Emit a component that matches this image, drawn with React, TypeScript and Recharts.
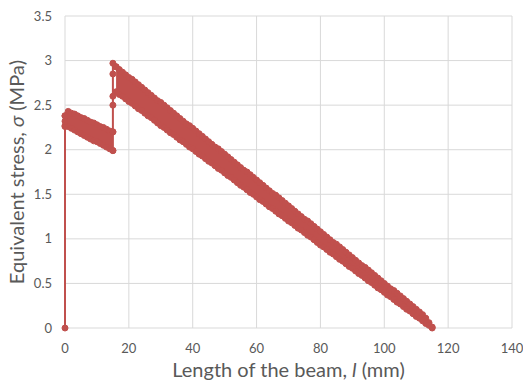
import React from 'react';
import { ComposedChart, Area, Line, XAxis, YAxis, CartesianGrid, Label } from 'recharts';

// band of nodal results: beam position (mm), upper and lower equivalent stress (MPa)
const bandX: number[] = [
  0, 1, 2, 3, 4, 5, 6, 7, 8, 9, 10, 11, 12, 13, 14, 15,
  16, 17, 18, 19, 20, 21, 22, 23, 24, 25, 26, 27, 28, 29, 30, 31, 32, 33, 34, 35,
  36, 37, 38, 39, 40, 41, 42, 43, 44, 45, 46, 47, 48, 49, 50, 51, 52, 53, 54, 55,
  56, 57, 58, 59, 60, 61, 62, 63, 64, 65, 66, 67, 68, 69, 70, 71, 72, 73, 74, 75,
  76, 77, 78, 79, 80, 81, 82, 83, 84, 85, 86, 87, 88, 89, 90, 91, 92, 93, 94, 95,
  96, 97, 98, 99, 100, 101, 102, 103, 104, 105, 106, 107, 108, 109, 110, 111, 112, 113, 114, 115,
];
const bandTop: number[] = [
  2.38, 2.43, 2.41, 2.4, 2.38, 2.36, 2.35, 2.33, 2.31, 2.3, 2.28, 2.26, 2.25, 2.23, 2.21, 2.2,
  2.93, 2.9, 2.87, 2.84, 2.81, 2.79, 2.76, 2.73, 2.7, 2.67, 2.64, 2.61, 2.58, 2.55, 2.53, 2.5, 2.47, 2.44, 2.41, 2.38,
  2.35, 2.32, 2.29, 2.27, 2.24, 2.21, 2.18, 2.15, 2.12, 2.09, 2.06, 2.03, 2.01, 1.98, 1.95, 1.92, 1.89, 1.86, 1.83, 1.8,
  1.77, 1.75, 1.72, 1.69, 1.66, 1.63, 1.6, 1.57, 1.54, 1.51, 1.49, 1.46, 1.43, 1.4, 1.37, 1.34, 1.31, 1.28, 1.25, 1.22,
  1.2, 1.17, 1.14, 1.11, 1.08, 1.05, 1.02, 0.99, 0.96, 0.94, 0.91, 0.88, 0.85, 0.82, 0.79, 0.76, 0.73, 0.7, 0.68, 0.65,
  0.62, 0.59, 0.56, 0.53, 0.5, 0.47, 0.44, 0.42, 0.39, 0.36, 0.33, 0.3, 0.27, 0.24, 0.21, 0.18, 0.15, 0.11, 0.06, 0.01,
];
const bandBottom: number[] = [
  2.27, 2.26, 2.24, 2.22, 2.2, 2.18, 2.16, 2.14, 2.12, 2.1, 2.09, 2.07, 2.05, 2.03, 2.01, 1.99,
  2.65, 2.62, 2.6, 2.57, 2.54, 2.52, 2.49, 2.46, 2.44, 2.41, 2.38, 2.36, 2.33, 2.3, 2.27, 2.25, 2.22, 2.19, 2.17, 2.14,
  2.11, 2.09, 2.06, 2.03, 2.01, 1.98, 1.95, 1.93, 1.9, 1.87, 1.85, 1.82, 1.79, 1.77, 1.74, 1.71, 1.69, 1.66, 1.63, 1.6,
  1.58, 1.55, 1.52, 1.5, 1.47, 1.44, 1.42, 1.39, 1.36, 1.34, 1.31, 1.28, 1.26, 1.23, 1.2, 1.18, 1.15, 1.12, 1.1, 1.07,
  1.04, 1.02, 0.99, 0.96, 0.93, 0.91, 0.88, 0.85, 0.83, 0.8, 0.77, 0.75, 0.72, 0.69, 0.67, 0.64, 0.61, 0.59, 0.56, 0.53,
  0.51, 0.48, 0.45, 0.43, 0.4, 0.37, 0.35, 0.32, 0.29, 0.27, 0.24, 0.21, 0.19, 0.16, 0.13, 0.11, 0.08, 0.05, 0.03, 0,
];

// the two vertical jumps (support at 0 mm, step at 15 mm)
const jump0X = [0, 0, 0, 0];
const jump0Y = [0, 2.26, 2.32, 2.38];
const jump15X = [15, 15, 15, 15, 15, 15, 16];
const jump15Y = [1.99, 2.2, 2.5, 2.6, 2.85, 2.97, 2.93];

const xTicks = [0, 20, 40, 60, 80, 100, 120, 140];
const yTicks = [0, 0.5, 1, 1.5, 2, 2.5, 3, 3.5];

const rows: any[] = [];
bandX.forEach((x, i) => {
  if (x === 16) rows.push({ x: 15.5, top: null, bot: null, band: null }); // gap between the two bands
  rows.push({ x, top: bandTop[i], bot: bandBottom[i], band: [bandBottom[i], bandTop[i]] });
});
const jump0 = jump0X.map((x, i) => ({ x, s: jump0Y[i] }));
const jump15 = jump15X.map((x, i) => ({ x, s: jump15Y[i] }));

const RED = '#C0504D';
const GREY = '#595959';
const FONT = 'Lato, "Open Sans", sans-serif';
const DOT = { r: 3, fill: RED, stroke: RED, strokeWidth: 1 };

const XTitle = ({ viewBox }: any) => (
  <text x={viewBox.x + viewBox.width / 2} y={377} textAnchor="middle" fill={GREY} fontSize={20} fontFamily={FONT}>
    Length of the beam, <tspan fontStyle="italic">l</tspan> (mm)
  </text>
);

const YTitle = ({ viewBox }: any) => {
  const cx = 19;
  const cy = viewBox.y + viewBox.height / 2;
  return (
    <text x={cx} y={cy} transform={`rotate(-90 ${cx} ${cy})`} textAnchor="middle" dominantBaseline="middle"
      fill={GREY} fontSize={20} fontFamily={FONT}>
      Equivalent stress, <tspan fontStyle="italic">σ</tspan> (MPa)
    </text>
  );
};

export default function App() {
  return (
    <div style={{ position: 'absolute', left: 0, top: 0, background: '#fff' }}>
      <ComposedChart width={523} height={388} data={rows} margin={{ top: 16, right: 11, bottom: 0, left: 0 }}>
        <CartesianGrid stroke="#d9d9d9" />
        <XAxis
          type="number" dataKey="x" domain={[0, 140]} ticks={xTicks} height={60}
          axisLine={false} tickLine={false} tickMargin={10}
          tick={{ fontSize: 13, fill: GREY, fontFamily: FONT }}
        >
          <Label content={XTitle} />
        </XAxis>
        <YAxis
          type="number" domain={[0, 3.5]} ticks={yTicks} width={65}
          axisLine={false} tickLine={false} tickMargin={7}
          tick={{ fontSize: 13, fill: GREY, fontFamily: FONT }}
        >
          <Label content={YTitle} />
        </YAxis>
        <Area dataKey="band" type="linear" fill={RED} fillOpacity={1} stroke="none" isAnimationActive={false} />
        <Line dataKey="top" type="linear" stroke={RED} strokeWidth={2} dot={DOT} isAnimationActive={false} />
        <Line dataKey="bot" type="linear" stroke={RED} strokeWidth={2} dot={DOT} isAnimationActive={false} />
        <Line data={jump0} dataKey="s" type="linear" stroke={RED} strokeWidth={2} dot={DOT} isAnimationActive={false} />
        <Line data={jump15} dataKey="s" type="linear" stroke={RED} strokeWidth={2} dot={DOT} isAnimationActive={false} />
      </ComposedChart>
    </div>
  );
}
